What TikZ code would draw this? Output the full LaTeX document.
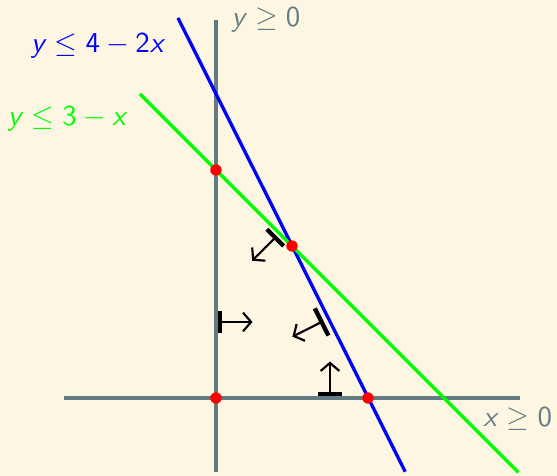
\documentclass[tikz,border=0pt]{standalone}
\usetikzlibrary{arrows.meta}
\definecolor{bgc}{RGB}{253,246,227}
\definecolor{axc}{RGB}{101,123,131}
\newcommand{\mrel}[1]{\hspace{0.28em}$#1$\hspace{0.28em}}
\newcommand{\mbin}[1]{\hspace{0.22em}$#1$\hspace{0.22em}}
\tikzset{
  axis/.style={draw=axc, line width=1.35pt},
  bound/.style={line width=1.25pt},
  dot/.style={circle, fill=red, inner sep=0pt, minimum size=0.15cm},
  lbl/.style={font=\fontsize{10.8}{13}\sffamily},
  hp/.pic={
    \draw[line width=1.6pt] (0,-#1) -- (0,#1);
    \draw[line width=0.8pt,-{Straight Barb[length=3pt,width=7pt]}] (0,0) -- (0.43,0);
  },
}
\begin{document}
\begin{tikzpicture}
\fill[bgc] (-2.842,-1.026) rectangle (4.487,5.237);
\useasboundingbox (-2.842,-1.026) rectangle (4.487,5.237);
% axes
\coordinate (xl) at (-2,0); \coordinate (xr) at (4,0);
\coordinate (yb) at (0,-0.97); \coordinate (yt) at (0,4.98);
\draw[axis] (xl) -- (xr);
\draw[axis] (yb) -- (yt);
% constraint lines
\coordinate (b1) at (-0.5,5); \coordinate (b2) at (2.49,-0.97);
\coordinate (g1) at (-1,4); \coordinate (g2) at (3.98,-0.98);
\draw[bound, blue] (b1) -- (b2);
\draw[bound, green] (g1) -- (g2);
% labels
\node[lbl, text=axc, anchor=west] (ly) at (0.08,4.98) {\textit{y}\mrel{\geq}0};
\node[lbl, text=axc] (lx) at (3.97,-0.27) {\textit{x}\mrel{\geq}0};
\node[lbl, text=blue] (lb) at (-1.55,4.64) {\textit{y}\mrel{\leq}4\mbin{-}2\textit{x}};
\node[lbl, text=green] (lg) at (-1.95,3.68) {\textit{y}\mrel{\leq}3\mbin{-}\textit{x}};
% vertices
\node[dot] (p0) at (0,0) {};
\node[dot] (p1) at (0,3) {};
\node[dot] (p2) at (1,2) {};
\node[dot] (p3) at (2,0) {};
% half-plane markers
\pic at (0.05,1.0) {hp=0.145};
\pic[rotate=90] at (1.5,0.05) {hp=0.155};
\pic[rotate=225] at (0.78,2.11) {hp=0.155};
\pic[rotate=206.6] at (1.39,1.0) {hp=0.2};
\end{tikzpicture}
\end{document}
